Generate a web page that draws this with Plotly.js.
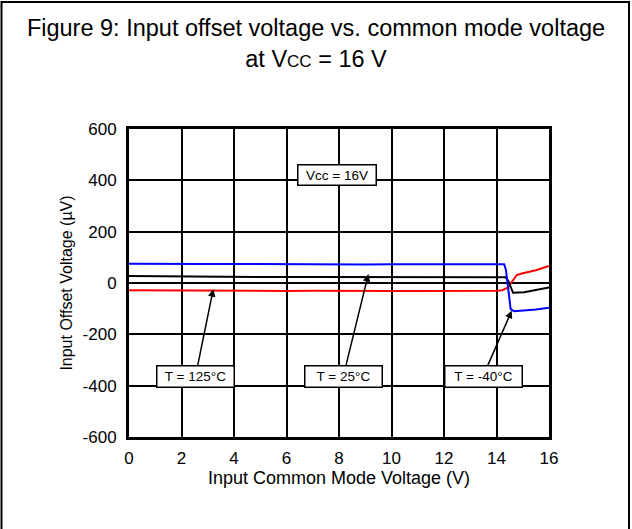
<!DOCTYPE html>
<html>
<head>
<meta charset="utf-8">
<script src="https://cdn.plot.ly/plotly-3.0.1.min.js"></script>
<style>
  html, body { margin: 0; padding: 0; background: #fff; }
  #chart { width: 632px; height: 529px; }
</style>
</head>
<body>
<div id="chart"></div>
<script>
// Input common mode voltage (V) and input offset voltage (µV) per temperature
const x125 = [0, 1, 2, 3, 4, 5, 6, 7, 8, 9, 10, 11, 12, 13, 14, 14.22, 14.44, 14.77, 15, 15.5, 16];
const y125 = [-28, -29, -30, -30, -30, -31, -31, -30, -31, -31, -31, -31, -31, -31, -30, -28, -17, 31, 38, 50, 66];

const x25 = [0, 1, 2, 3, 4, 5, 6, 7, 8, 9, 10, 11, 12, 13, 14, 14.35, 14.45, 14.63, 15.05, 15.5, 16];
const y25 = [27, 26, 25, 24, 24, 24, 23, 23, 23, 23, 23, 23, 23, 23, 23, 22, 8, -38, -36, -27, -17];

const xm40 = [0, 1, 2, 3, 4, 5, 6, 7, 8, 9, 10, 11, 12, 13, 14, 14.29, 14.36, 14.54, 14.67, 15, 15.5, 16];
const ym40 = [75, 74, 75, 74, 74, 73, 74, 73, 72, 72, 73, 72, 73, 73, 73, 73, 51, -102, -110, -108, -103, -96];

const xTickVals = [0, 2, 4, 6, 8, 10, 12, 14, 16];
const yTickVals = [-600, -400, -200, 0, 200, 400, 600];
const yTickText = ['-600', '-400', '-200', '0', '200', '400', '600'];

const labels = ['T = 125°C', 'T = 25°C', 'T = -40°C'];
const labelPos = [[2.53, -365], [8.16, -365], [13.49, -363]];
const arrowTips = [[3.21, -24], [9.12, 35], [14.58, -108]];
const vccLabel = 'Vcc = 16V';
const vccPos = [7.92, 419];

const FONT = 'Liberation Sans, Arial, Helvetica, sans-serif';

const traces = [
  { x: x125, y: y125, mode: 'lines', name: 'T = 125°C', line: { color: '#ff0000', width: 2 } },
  { x: x25, y: y25, mode: 'lines', name: 'T = 25°C', line: { color: '#000000', width: 2 } },
  { x: xm40, y: ym40, mode: 'lines', name: 'T = -40°C', line: { color: '#0000ff', width: 2 } }
];

const annotations = labels.map((t, i) => ({
  text: t,
  x: arrowTips[i][0], y: arrowTips[i][1], xref: 'x', yref: 'y',
  ax: labelPos[i][0], ay: labelPos[i][1], axref: 'x', ayref: 'y',
  showarrow: true, arrowhead: 2, arrowsize: 1, arrowwidth: 1.5, arrowcolor: '#000',
  bgcolor: '#fff', bordercolor: '#000', borderwidth: 1.5, borderpad: 2,
  width: 72, height: 16,
  font: { family: FONT, size: 13.5, color: '#000' }
}));
annotations.push({
  text: vccLabel, x: vccPos[0], y: vccPos[1], xref: 'x', yref: 'y',
  showarrow: false, bgcolor: '#fff', bordercolor: '#000', borderwidth: 1.5, borderpad: 2,
  width: 73, height: 15,
  font: { family: FONT, size: 13.5, color: '#000' }
});

const layout = {
  width: 632, height: 529,
  margin: { l: 129, r: 83, t: 129, b: 92 },
  paper_bgcolor: '#fff', plot_bgcolor: '#fff',
  showlegend: false,
  font: { family: FONT, color: '#000' },
  title: {
    text: 'Figure 9: Input offset voltage vs. common mode voltage<br>at V<span style="font-size:17px">CC</span> = 16 V',
    font: { family: FONT, size: 23.5, color: '#000' },
    x: 0.5, xref: 'container', xanchor: 'center',
    y: 0.932, yref: 'container', yanchor: 'top'
  },
  xaxis: {
    range: [0, 16], tickvals: xTickVals, ticktext: xTickVals.map(String),
    showgrid: true, gridcolor: '#000', gridwidth: 2,
    showline: true, linecolor: '#000', linewidth: 3, mirror: true,
    zeroline: false, ticks: '', ticklabelstandoff: 4,
    tickfont: { family: FONT, size: 17, color: '#000' },
    title: { text: 'Input Common Mode Voltage (V)', font: { family: FONT, size: 18, color: '#000' }, standoff: 4 }
  },
  yaxis: {
    range: [-600, 600], tickvals: yTickVals, ticktext: yTickText,
    showgrid: true, gridcolor: '#000', gridwidth: 2,
    showline: true, linecolor: '#000', linewidth: 3, mirror: true,
    zeroline: false, ticks: '', ticklabelstandoff: 6,
    tickfont: { family: FONT, size: 17, color: '#000' },
    title: { text: 'Input Offset Voltage (µV)', font: { family: FONT, size: 16, color: '#000' }, standoff: 6 }
  },
  annotations: annotations,
  shapes: [{
    type: 'path', xref: 'paper', yref: 'paper',
    path: 'M -0.3036,-0.33 L -0.3036,1.412 L 1.1905,1.412 L 1.1905,-0.33',
    line: { color: '#000', width: 2 }
  }]
};

Plotly.newPlot('chart', traces, layout, { displayModeBar: false, staticPlot: true });
</script>
</body>
</html>
